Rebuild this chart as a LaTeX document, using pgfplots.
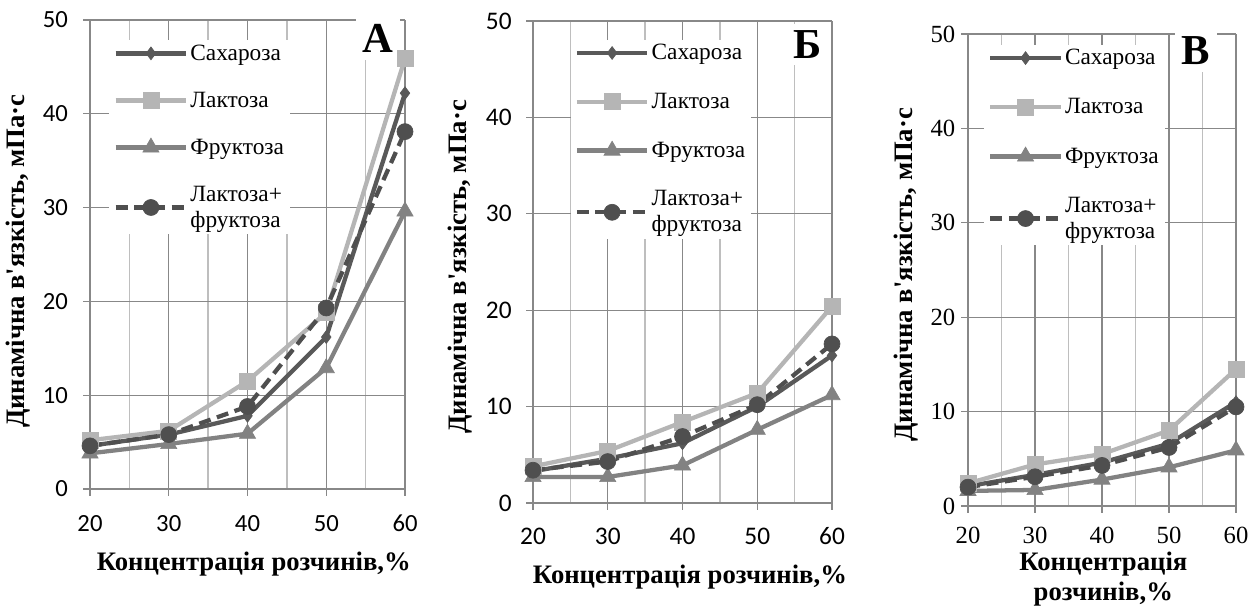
\documentclass[border=0pt]{standalone}
\usepackage{fontspec}
\setmainfont{Liberation Serif}
\newfontfamily\calibri{Carlito}
\usepackage{pgfplots}
\pgfplotsset{compat=1.18}
\definecolor{csah}{HTML}{595959}
\definecolor{clak}{HTML}{B5B5B5}
\definecolor{cfru}{HTML}{828282}
\definecolor{clf}{HTML}{4F4F4F}
\definecolor{gmaj}{HTML}{888888}
\definecolor{gmin}{HTML}{BEBEBE}
\newcommand{\apos}{{\addfontfeatures{Ligatures=TeXOff}'}}

\tikzset{letter/.style={fill=white, inner sep=5pt, font=\bfseries\fontsize{32}{34}\selectfont}}
\pgfplotsset{
 myaxis/.style={
  scale only axis,
  xmin=20, xmax=60, ymin=0, ymax=50,
  xtick={20,30,40,50,60}, ytick={0,10,...,50},
  minor xtick={25,35,45,55},
  xmajorgrids, ymajorgrids, xminorgrids,
  major grid style={gmaj, line width=1pt},
  minor grid style={gmin, line width=1pt},
  axis x line*=bottom, axis y line*=left,
  axis line style={gmaj, line width=1pt, -},
  major tick length=5pt, minor tick length=0pt,
  tick align=outside,
  tick style={gmaj, line width=1pt},
  /pgf/number format/assume math mode=true,
  clip=false,
  legend cell align=left,
  legend style={draw=none, fill=white, font=\fontsize{17.5}{19.5}\selectfont,
    cells={align=left}, nodes={inner sep=1.5pt}, anchor=north west},
  legend image code/.code={\draw[##1, mark repeat=2, mark phase=2] plot coordinates {(0pt,0pt) (26.5pt,0pt) (53pt,0pt)};},
  every axis y label/.style={rotate=90, anchor=center, font=\bfseries\fontsize{20}{22}\selectfont},
  every axis x label/.style={anchor=center, align=center, font=\bfseries\fontsize{20}{23}\selectfont},
 },
 sah/.style={csah, line width=3.2pt, mark=diamond*, mark size=4.8pt, mark options={solid, fill=csah, draw=csah, line width=0.5pt}},
 lak/.style={clak, line width=3.2pt, mark=square*, mark size=6pt, mark options={solid, fill=clak, draw=clak, line width=0.5pt}},
 fru/.style={cfru, line width=3.2pt, mark=triangle*, mark size=7pt, mark options={solid, fill=cfru, draw=cfru, line width=0.5pt}},
 lf/.style={clf, line width=3.2pt, dash pattern=on 9pt off 5pt, mark=*, mark size=6pt, mark options={solid, fill=clf, draw=clf, line width=0.5pt}},
}

\begin{document}
\begin{tikzpicture}
\useasboundingbox (0,0) rectangle (944.25pt,456pt);

% ---------------- Panel A ----------------
\begin{axis}[myaxis,
  at={(67.5pt,89.25pt)}, anchor=south west,
  width=236.25pt, height=351.75pt,
  tick label style={font=\calibri\fontsize{18.5}{20}\selectfont},
  yticklabel style={xshift=-8pt},
  xticklabel style={yshift=-11pt},
  legend style={at={(axis description cs:0.061,0.958)}, row sep=19.3pt},
  xlabel={Концентрація розчинів,\%},
  ylabel={Динамічна в\apos язкість, мПа·с},
  xlabel style={at={(axis description cs:0.52,-0.16)}},
  ylabel style={at={(axis description cs:-0.229,0.486)}},
]
\addplot[sah] coordinates {(20,4.6) (30,5.8) (40,7.8) (50,16.2) (60,42.2)};
\addlegendentry{Сахароза}
\addplot[lak] coordinates {(20,5.2) (30,6.2) (40,11.5) (50,18.8) (60,45.9)};
\addlegendentry{Лактоза}
\addplot[fru] coordinates {(20,3.8) (30,4.8) (40,5.9) (50,12.9) (60,29.6)};
\addlegendentry{Фруктоза}
\addplot[lf] coordinates {(20,4.6) (30,5.8) (40,8.8) (50,19.3) (60,38.1)};
\addlegendentry{Лактоза+\\фруктоза}
\node[letter] at (axis cs:56.6,48.0) {А};
\end{axis}

% ---------------- Panel B ----------------
\begin{axis}[myaxis,
  at={(399.75pt,78.75pt)}, anchor=south west,
  width=224.25pt, height=361.5pt,
  tick label style={font=\calibri\fontsize{19}{21}\selectfont},
  yticklabel style={xshift=-7.5pt},
  xticklabel style={yshift=-10pt},
  legend style={at={(axis description cs:0.125,0.962)}, row sep=20.6pt},
  xlabel={Концентрація розчинів,\%},
  ylabel={Динамічна в\apos язкість, мПа·с},
  xlabel style={at={(axis description cs:0.525,-0.154)}},
  ylabel style={at={(axis description cs:-0.244,0.49)}},
]
\addplot[sah] coordinates {(20,3.3) (30,4.6) (40,6.2) (50,10.0) (60,15.3)};
\addlegendentry{Сахароза}
\addplot[lak] coordinates {(20,3.8) (30,5.4) (40,8.4) (50,11.4) (60,20.4)};
\addlegendentry{Лактоза}
\addplot[fru] coordinates {(20,2.7) (30,2.7) (40,3.9) (50,7.6) (60,11.2)};
\addlegendentry{Фруктоза}
\addplot[lf] coordinates {(20,3.4) (30,4.3) (40,6.9) (50,10.2) (60,16.5)};
\addlegendentry{Лактоза+\\фруктоза}
\node[letter] at (axis cs:56.7,47.6) {Б};
\end{axis}

% ---------------- Panel V ----------------
\begin{axis}[myaxis,
  at={(726pt,76.5pt)}, anchor=south west,
  width=201pt, height=354pt,
  tick label style={font=\fontsize{18.5}{20}\selectfont},
  yticklabel style={xshift=-1pt},
  xticklabel style={yshift=-7pt},
  legend style={at={(axis description cs:0.059,0.978)}, row sep=20.9pt},
  xlabel={Концентрація\\розчинів,\%},
  ylabel={Динамічна в\apos язкість, мПа·с},
  xlabel style={at={(axis description cs:0.505,-0.155)}},
  ylabel style={at={(axis description cs:-0.23,0.49)}},
]
\addplot[sah] coordinates {(20,2.1) (30,3.3) (40,4.6) (50,6.6) (60,11.0)};
\addlegendentry{Сахароза}
\addplot[lak] coordinates {(20,2.4) (30,4.4) (40,5.5) (50,8.0) (60,14.5)};
\addlegendentry{Лактоза}
\addplot[fru] coordinates {(20,1.6) (30,1.7) (40,2.8) (50,4.1) (60,5.9)};
\addlegendentry{Фруктоза}
\addplot[lf] coordinates {(20,2.0) (30,3.1) (40,4.3) (50,6.2) (60,10.5)};
\addlegendentry{Лактоза+\\фруктоза}
\node[letter] at (axis cs:54.0,48.2) {В};
\end{axis}
\end{tikzpicture}
\end{document}
